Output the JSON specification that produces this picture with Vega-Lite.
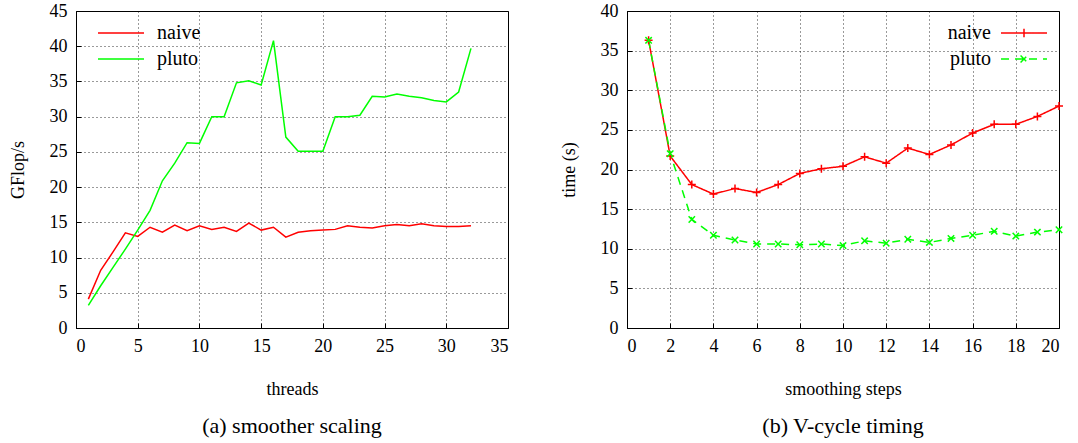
{
  "$schema": "https://vega.github.io/schema/vega-lite/v6.json",
  "padding": {"left": 8, "top": 1, "right": 5, "bottom": 5},
  "spacing": 50,
  "resolve": {"scale": {"color": "independent", "strokeDash": "independent"}, "legend": {"color": "independent"}},
  "config": {
    "font": "Liberation Serif",
    "view": {"stroke": "black", "strokeWidth": 1},
    "style": {"guide-label": {"font": "Liberation Serif"}, "guide-title": {"font": "Liberation Serif"}},
    "axis": {
      "domain": false,
      "grid": true,
      "gridColor": "black",
      "gridDash": [1, 3],
      "gridWidth": 0.8,
      "gridOpacity": 1,
      "tickColor": "black",
      "tickSize": -5,
      "labelPadding": 14,
      "labelFont": "Liberation Serif",
      "labelFontSize": 18,
      "labelColor": "black",
      "titleFont": "Liberation Serif",
      "titleFontSize": 18,
      "titleFontWeight": "normal",
      "titleColor": "black"
    },
    "legend": {"labelFont": "Liberation Serif", "labelFontSize": 20, "labelColor": "black", "title": null},
    "title": {"font": "Liberation Serif", "fontSize": 22, "fontWeight": "normal", "color": "black"}
  },
  "hconcat": [
    {
      "width": 432,
      "height": 317,
      "title": {"text": "(a) smoother scaling", "orient": "bottom", "offset": 18},
      "data": {"values": [
        {"threads": 1, "series": "naive", "gflops": 4.1},
        {"threads": 2, "series": "naive", "gflops": 8.2},
        {"threads": 3, "series": "naive", "gflops": 10.8},
        {"threads": 4, "series": "naive", "gflops": 13.5},
        {"threads": 5, "series": "naive", "gflops": 13.0},
        {"threads": 6, "series": "naive", "gflops": 14.3},
        {"threads": 7, "series": "naive", "gflops": 13.6},
        {"threads": 8, "series": "naive", "gflops": 14.6},
        {"threads": 9, "series": "naive", "gflops": 13.8},
        {"threads": 10, "series": "naive", "gflops": 14.5},
        {"threads": 11, "series": "naive", "gflops": 14.0},
        {"threads": 12, "series": "naive", "gflops": 14.3},
        {"threads": 13, "series": "naive", "gflops": 13.7},
        {"threads": 14, "series": "naive", "gflops": 14.9},
        {"threads": 15, "series": "naive", "gflops": 13.9},
        {"threads": 16, "series": "naive", "gflops": 14.3},
        {"threads": 17, "series": "naive", "gflops": 12.9},
        {"threads": 18, "series": "naive", "gflops": 13.6},
        {"threads": 19, "series": "naive", "gflops": 13.8},
        {"threads": 20, "series": "naive", "gflops": 13.9},
        {"threads": 21, "series": "naive", "gflops": 14.0},
        {"threads": 22, "series": "naive", "gflops": 14.5},
        {"threads": 23, "series": "naive", "gflops": 14.3},
        {"threads": 24, "series": "naive", "gflops": 14.2},
        {"threads": 25, "series": "naive", "gflops": 14.5},
        {"threads": 26, "series": "naive", "gflops": 14.7},
        {"threads": 27, "series": "naive", "gflops": 14.5},
        {"threads": 28, "series": "naive", "gflops": 14.8},
        {"threads": 29, "series": "naive", "gflops": 14.5},
        {"threads": 30, "series": "naive", "gflops": 14.4},
        {"threads": 31, "series": "naive", "gflops": 14.4},
        {"threads": 32, "series": "naive", "gflops": 14.5},
        {"threads": 1, "series": "pluto", "gflops": 3.2},
        {"threads": 2, "series": "pluto", "gflops": 6.0},
        {"threads": 3, "series": "pluto", "gflops": 8.6},
        {"threads": 4, "series": "pluto", "gflops": 11.2},
        {"threads": 5, "series": "pluto", "gflops": 13.9},
        {"threads": 6, "series": "pluto", "gflops": 16.7},
        {"threads": 7, "series": "pluto", "gflops": 20.9},
        {"threads": 8, "series": "pluto", "gflops": 23.4},
        {"threads": 9, "series": "pluto", "gflops": 26.3},
        {"threads": 10, "series": "pluto", "gflops": 26.2},
        {"threads": 11, "series": "pluto", "gflops": 30.0},
        {"threads": 12, "series": "pluto", "gflops": 30.0},
        {"threads": 13, "series": "pluto", "gflops": 34.8},
        {"threads": 14, "series": "pluto", "gflops": 35.1},
        {"threads": 15, "series": "pluto", "gflops": 34.5},
        {"threads": 16, "series": "pluto", "gflops": 40.8},
        {"threads": 17, "series": "pluto", "gflops": 27.1},
        {"threads": 18, "series": "pluto", "gflops": 25.1},
        {"threads": 19, "series": "pluto", "gflops": 25.1},
        {"threads": 20, "series": "pluto", "gflops": 25.1},
        {"threads": 21, "series": "pluto", "gflops": 30.0},
        {"threads": 22, "series": "pluto", "gflops": 30.0},
        {"threads": 23, "series": "pluto", "gflops": 30.2},
        {"threads": 24, "series": "pluto", "gflops": 32.9},
        {"threads": 25, "series": "pluto", "gflops": 32.8},
        {"threads": 26, "series": "pluto", "gflops": 33.2},
        {"threads": 27, "series": "pluto", "gflops": 32.9},
        {"threads": 28, "series": "pluto", "gflops": 32.7},
        {"threads": 29, "series": "pluto", "gflops": 32.3},
        {"threads": 30, "series": "pluto", "gflops": 32.1},
        {"threads": 31, "series": "pluto", "gflops": 33.5},
        {"threads": 32, "series": "pluto", "gflops": 39.7}
      ]},
      "mark": {"type": "line", "strokeWidth": 1.5},
      "encoding": {
        "x": {"field": "threads", "type": "quantitative", "scale": {"domain": [0, 35], "nice": false},
              "axis": {"values": [0, 5, 10, 15, 20, 25, 30, 35], "title": "threads", "titlePadding": 25}},
        "y": {"field": "gflops", "type": "quantitative", "scale": {"domain": [0, 45], "nice": false},
              "axis": {"values": [0, 5, 10, 15, 20, 25, 30, 35, 40, 45], "title": "GFlop/s", "titlePadding": 22}},
        "color": {"field": "series", "type": "nominal",
                  "scale": {"domain": ["naive", "pluto"], "range": ["#ff0000", "#00ff00"]},
                  "legend": {"orient": "none", "legendX": 35, "legendY": 12, "symbolType": "M-3,0H3", "symbolSize": 235, "symbolStrokeWidth": 1.5, "symbolFillColor": "transparent", "rowPadding": 6, "labelOffset": 26}}
      }
    },
    {
      "width": 432,
      "height": 317,
      "title": {"text": "(b) V-cycle timing", "orient": "bottom", "offset": 18},
      "data": {"values": [
        {"steps": 1, "series": "naive", "time": 36.3},
        {"steps": 2, "series": "naive", "time": 21.7},
        {"steps": 3, "series": "naive", "time": 18.1},
        {"steps": 4, "series": "naive", "time": 16.9},
        {"steps": 5, "series": "naive", "time": 17.6},
        {"steps": 6, "series": "naive", "time": 17.1},
        {"steps": 7, "series": "naive", "time": 18.1},
        {"steps": 8, "series": "naive", "time": 19.5},
        {"steps": 9, "series": "naive", "time": 20.1},
        {"steps": 10, "series": "naive", "time": 20.4},
        {"steps": 11, "series": "naive", "time": 21.6},
        {"steps": 12, "series": "naive", "time": 20.8},
        {"steps": 13, "series": "naive", "time": 22.7},
        {"steps": 14, "series": "naive", "time": 21.9},
        {"steps": 15, "series": "naive", "time": 23.1},
        {"steps": 16, "series": "naive", "time": 24.6},
        {"steps": 17, "series": "naive", "time": 25.7},
        {"steps": 18, "series": "naive", "time": 25.7},
        {"steps": 19, "series": "naive", "time": 26.7},
        {"steps": 20, "series": "naive", "time": 28.0},
        {"steps": 1, "series": "pluto", "time": 36.3},
        {"steps": 2, "series": "pluto", "time": 22.0},
        {"steps": 3, "series": "pluto", "time": 13.7},
        {"steps": 4, "series": "pluto", "time": 11.7},
        {"steps": 5, "series": "pluto", "time": 11.1},
        {"steps": 6, "series": "pluto", "time": 10.6},
        {"steps": 7, "series": "pluto", "time": 10.6},
        {"steps": 8, "series": "pluto", "time": 10.5},
        {"steps": 9, "series": "pluto", "time": 10.6},
        {"steps": 10, "series": "pluto", "time": 10.4},
        {"steps": 11, "series": "pluto", "time": 11.0},
        {"steps": 12, "series": "pluto", "time": 10.7},
        {"steps": 13, "series": "pluto", "time": 11.2},
        {"steps": 14, "series": "pluto", "time": 10.8},
        {"steps": 15, "series": "pluto", "time": 11.3},
        {"steps": 16, "series": "pluto", "time": 11.7},
        {"steps": 17, "series": "pluto", "time": 12.2},
        {"steps": 18, "series": "pluto", "time": 11.6},
        {"steps": 19, "series": "pluto", "time": 12.1},
        {"steps": 20, "series": "pluto", "time": 12.4}
      ]},
      "encoding": {
        "x": {"field": "steps", "type": "quantitative", "scale": {"domain": [0, 20], "nice": false},
              "axis": {"values": [0, 2, 4, 6, 8, 10, 12, 14, 16, 18, 20], "title": "smoothing steps", "titlePadding": 25}},
        "y": {"field": "time", "type": "quantitative", "scale": {"domain": [0, 40], "nice": false},
              "axis": {"values": [0, 5, 10, 15, 20, 25, 30, 35, 40], "title": "time (s)", "titlePadding": 22}},
        "color": {"field": "series", "type": "nominal",
                  "scale": {"domain": ["naive", "pluto"], "range": ["#ff0000", "#00ff00"]},
                  "legend": {"orient": "none", "legendX": 387, "legendY": 12, "symbolSize": 235, "symbolStrokeWidth": 1.5,
                             "rowPadding": 6, "labelAlign": "right", "labelOffset": -43,
                             "encode": {"symbols": {"update": {
                               "shape": {"signal": "datum.value === 'naive' ? 'M-3,0H3M0,-0.55V0.55M-0.55,0H0.55' : 'M-3,0H3M-0.45,-0.45L0.45,0.45M-0.45,0.45L0.45,-0.45'"},
                               "fill": {"value": "transparent"},
                               "strokeWidth": {"value": 1.5}
                             }}}}},
        "strokeDash": {"field": "series", "type": "nominal",
                       "scale": {"domain": ["naive", "pluto"], "range": [[1, 0], [8, 6]]}, "legend": null}
      },
      "layer": [
        {"mark": {"type": "line", "strokeWidth": 1.5}},
        {"transform": [{"filter": "datum.series === 'naive'"}],
         "mark": {"type": "point", "filled": false, "size": 64, "strokeWidth": 1.5, "opacity": 1, "shape": "M-1,0H1M0,-1V1"},
         "encoding": {"strokeDash": {"value": [1, 0]}}},
        {"transform": [{"filter": "datum.series === 'pluto'"}],
         "mark": {"type": "point", "filled": false, "size": 64, "strokeWidth": 1.5, "opacity": 1, "shape": "M-0.8,-0.8L0.8,0.8M-0.8,0.8L0.8,-0.8"},
         "encoding": {"strokeDash": {"value": [1, 0]}}}
      ]
    }
  ]
}
